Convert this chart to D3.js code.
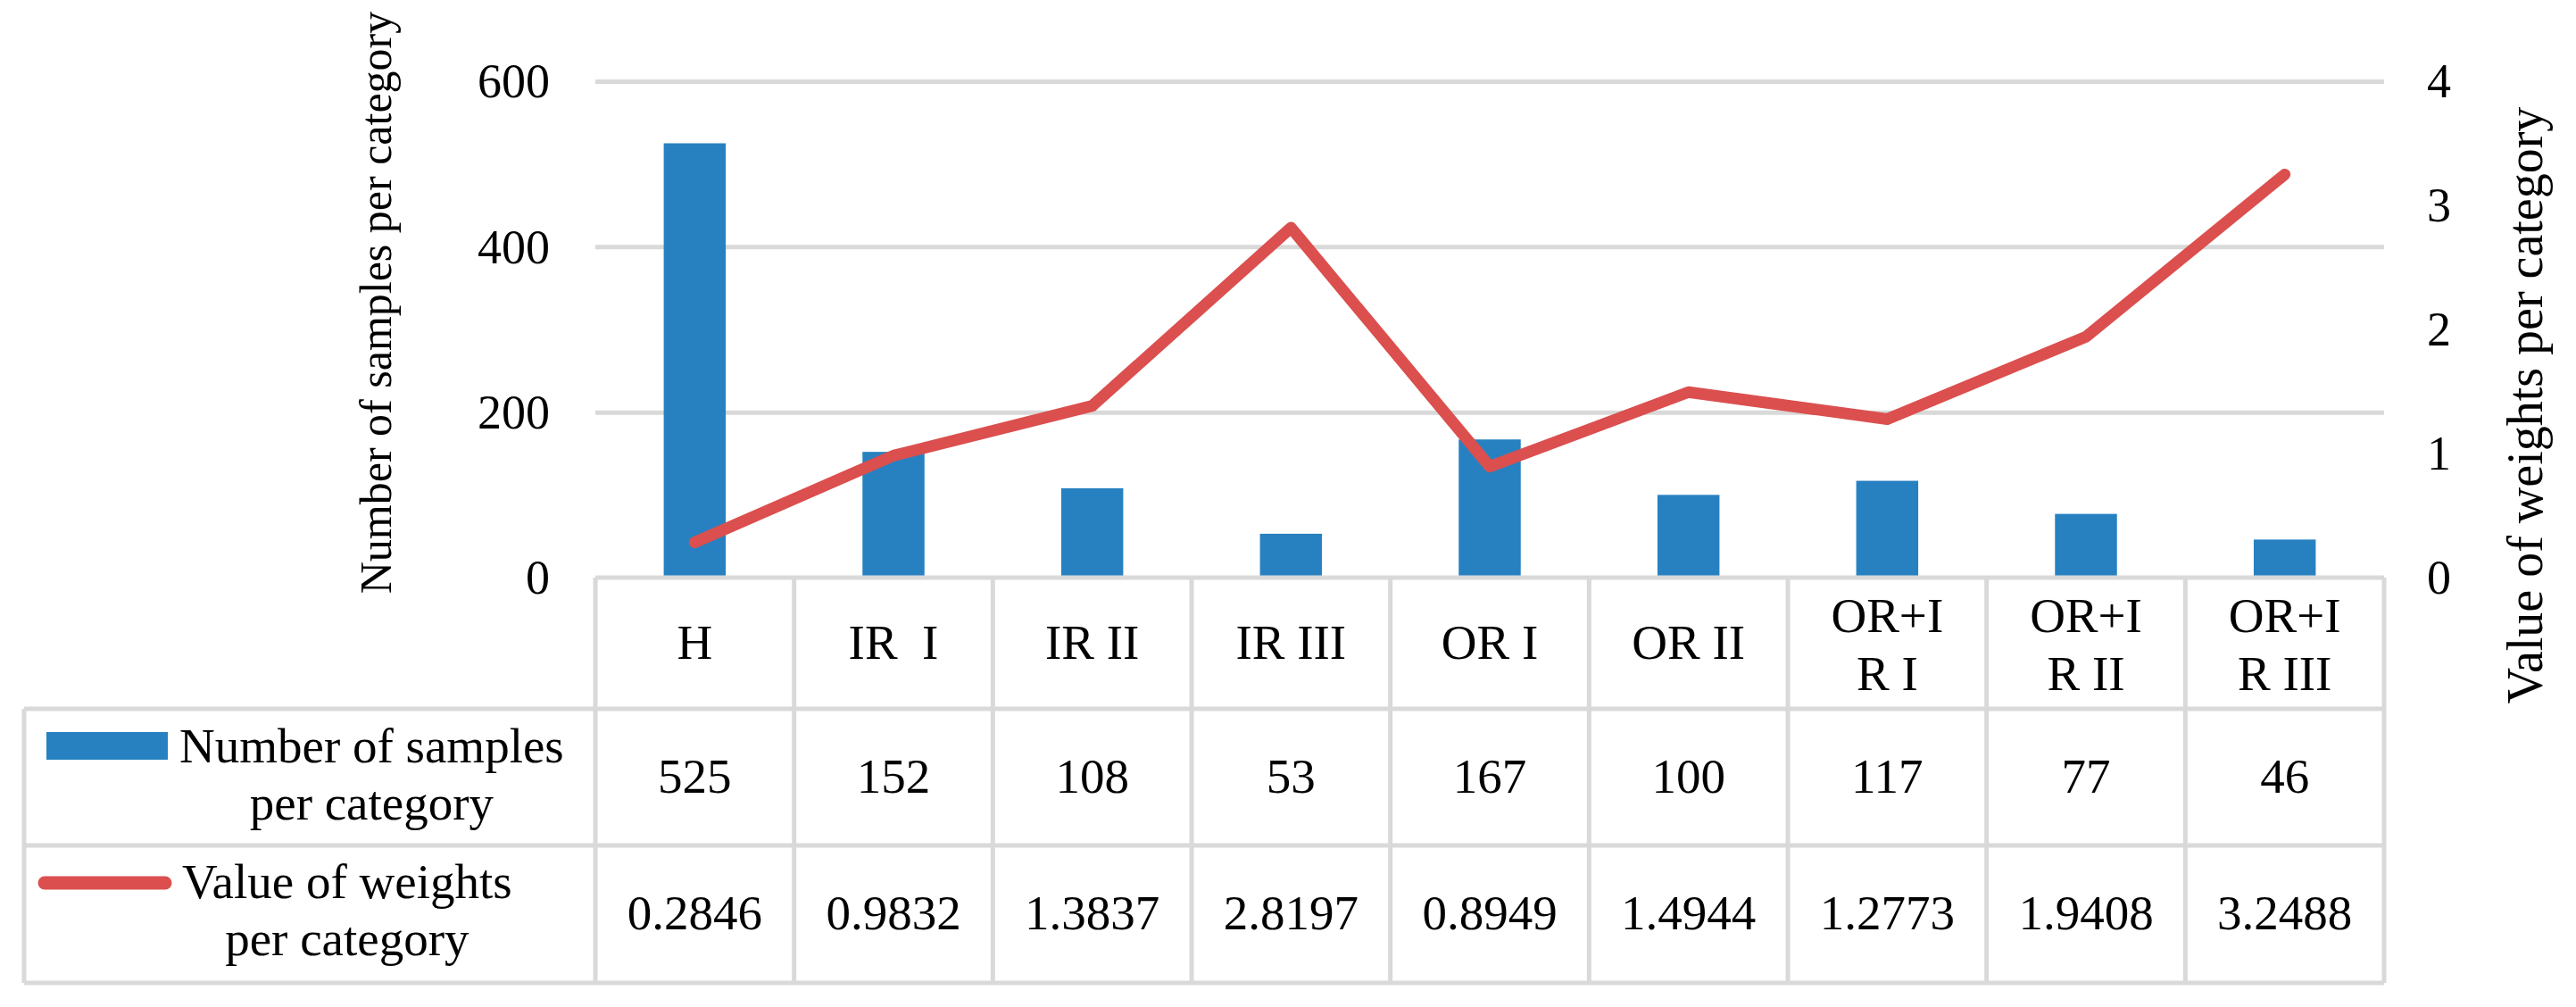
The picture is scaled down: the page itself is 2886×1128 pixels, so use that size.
<!DOCTYPE html>
<html>
<head>
<meta charset="utf-8">
<script src="https://cdn.jsdelivr.net/npm/d3@7"></script>
<style>
  html, body { margin: 0; padding: 0; background: #ffffff; }
  svg { display: block; }
  text { font-family: "Liberation Serif", "Times New Roman", serif; fill: #000; }
</style>
</head>
<body>
<svg id="chart" width="2886" height="1128"></svg>
<script>
// ---------- data ----------
const categories = ["H", "IR  I", "IR II", "IR III", "OR I", "OR II", "OR+I R I", "OR+I R II", "OR+I R III"];
const categoryLines = [["H"], ["IR\u00a0\u00a0I"], ["IR II"], ["IR III"], ["OR I"], ["OR II"], ["OR+I", "R I"], ["OR+I", "R II"], ["OR+I", "R III"]];
const samples = [525, 152, 108, 53, 167, 100, 117, 77, 46];
const weights = [0.2846, 0.9832, 1.3837, 2.8197, 0.8949, 1.4944, 1.2773, 1.9408, 3.2488];
const leftTicks = [0, 200, 400, 600];
const rightTicks = [0, 1, 2, 3, 4];
const seriesNames = [["Number of samples", "per category"], ["Value of weights", "per category"]];
const leftTitle = "Number of samples per category";
const rightTitle = "Value of weights per category";

// ---------- layout ----------
const plotLeft = 667, plotRight = 2671, plotTop = 91, axisY = 647;
const tableLeft = 27, row1 = 794, row2 = 947, tableBottom = 1101;
const blue = "#2781C1", red = "#DB4F4E", grid = "#D9D9D9";

const svg = d3.select("#chart");

const x = d3.scaleBand().domain(categories).range([plotLeft, plotRight]).paddingInner(0).paddingOuter(0);
const yL = d3.scaleLinear().domain([0, 600]).range([axisY, plotTop]);
const yR = d3.scaleLinear().domain([0, 4]).range([axisY, plotTop]);

// gridlines
const gridAxis = d3.axisLeft(yL).tickValues(leftTicks.filter(d => d > 0)).tickSize(-(plotRight - plotLeft)).tickFormat("");
const gG = svg.append("g").attr("transform", `translate(${plotLeft},0)`).call(gridAxis);
gG.select(".domain").remove();
gG.selectAll("line").attr("stroke", grid).attr("stroke-width", 5);

// left axis labels
const lAxis = d3.axisLeft(yL).tickValues(leftTicks).tickSize(0).tickPadding(0).tickFormat(d3.format("d"));
const lG = svg.append("g").attr("transform", `translate(616,0)`).call(lAxis);
lG.select(".domain").remove();
lG.selectAll("text").attr("font-size", 54).attr("font-family", "Liberation Serif").attr("fill", "#000").attr("dy", "0.33em").attr("x", 0);

// right axis labels
const rAxis = d3.axisRight(yR).tickValues(rightTicks).tickSize(0).tickPadding(0).tickFormat(d3.format("d"));
const rG = svg.append("g").attr("transform", `translate(2719,0)`).call(rAxis);
rG.select(".domain").remove();
rG.selectAll("text").attr("font-size", 54).attr("font-family", "Liberation Serif").attr("fill", "#000").attr("dy", "0.33em").attr("x", 0);

// axis titles
svg.append("text").attr("transform", `translate(438,339) rotate(-90)`).attr("text-anchor", "middle")
  .attr("font-size", 50).text(leftTitle);
svg.append("text").attr("transform", `translate(2848,454) rotate(-90)`).attr("text-anchor", "middle")
  .attr("font-size", 56).text(rightTitle);

// bars
const barW = x.bandwidth() * 0.312;
svg.append("g").selectAll("rect").data(samples).join("rect")
  .attr("x", (d, i) => x(categories[i]) + (x.bandwidth() - barW) / 2)
  .attr("y", d => yL(d))
  .attr("width", barW)
  .attr("height", d => axisY - yL(d))
  .attr("fill", blue);

// line
const line = d3.line().x((d, i) => x(categories[i]) + x.bandwidth() / 2).y(d => yR(d));
svg.append("path").datum(weights).attr("d", line)
  .attr("fill", "none").attr("stroke", red).attr("stroke-width", 13)
  .attr("stroke-linejoin", "round").attr("stroke-linecap", "round");

// ---------- data table ----------
const tg = svg.append("g").attr("stroke", grid).attr("stroke-width", 5);
tg.append("line").attr("x1", plotLeft).attr("x2", plotRight).attr("y1", axisY).attr("y2", axisY);
[row1, row2, tableBottom].forEach(yy => tg.append("line").attr("x1", tableLeft).attr("x2", plotRight).attr("y1", yy).attr("y2", yy));
tg.append("line").attr("x1", tableLeft).attr("x2", tableLeft).attr("y1", row1).attr("y2", tableBottom);
const bounds = categories.map(c => x(c)).concat([plotRight]);
bounds.forEach(bx => tg.append("line").attr("x1", bx).attr("x2", bx).attr("y1", axisY).attr("y2", tableBottom));

// header labels
const fs = 55;
categories.forEach((c, i) => {
  const cx = x(c) + x.bandwidth() / 2;
  const lines = categoryLines[i];
  const t = svg.append("text").attr("text-anchor", "middle").attr("font-size", fs);
  if (lines.length === 1) {
    t.append("tspan").attr("x", cx).attr("y", 738).text(lines[0]);
  } else {
    t.append("tspan").attr("x", cx).attr("y", 708).text(lines[0]);
    t.append("tspan").attr("x", cx).attr("y", 773).text(lines[1]);
  }
});
// values
const fmtW = d3.format(".4f");
svg.append("g").selectAll("text").data(samples).join("text")
  .attr("x", (d, i) => x(categories[i]) + x.bandwidth() / 2).attr("y", 888)
  .attr("text-anchor", "middle").attr("font-size", fs).text(d => d);
svg.append("g").selectAll("text").data(weights).join("text")
  .attr("x", (d, i) => x(categories[i]) + x.bandwidth() / 2).attr("y", 1041)
  .attr("text-anchor", "middle").attr("font-size", fs).text(d => fmtW(d));

// legend keys
svg.append("rect").attr("x", 52).attr("y", 820).attr("width", 136).attr("height", 31).attr("fill", blue);
svg.append("line").attr("x1", 50).attr("x2", 185).attr("y1", 989).attr("y2", 989)
  .attr("stroke", red).attr("stroke-width", 15).attr("stroke-linecap", "round");

// legend labels
function legendLabel(lines, startX, y1, y2) {
  const t1 = svg.append("text").attr("x", startX).attr("y", y1).attr("font-size", fs).text(lines[0]);
  const w = t1.node().getComputedTextLength();
  svg.append("text").attr("x", startX + w / 2).attr("y", y2).attr("text-anchor", "middle").attr("font-size", fs).text(lines[1]);
}
legendLabel(seriesNames[0], 201, 854, 918);
legendLabel(seriesNames[1], 204, 1006, 1070);
</script>
</body>
</html>
